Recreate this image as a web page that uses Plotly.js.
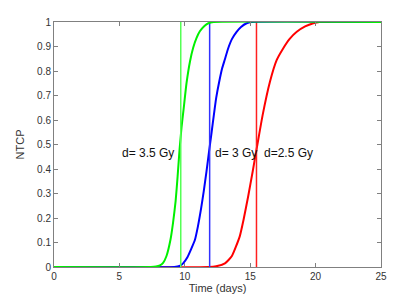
<!DOCTYPE html>
<html>
<head>
<meta charset="utf-8">
<script src="https://cdn.plot.ly/plotly-3.0.1.min.js"></script>
<style>html,body{margin:0;padding:0;background:#fff;}#chart{width:420px;height:300px;}</style>
</head>
<body>
<div id="chart"></div>
<script>
// NTCP curves (time in days, NTCP)
const greenT = [0, 7.4, 7.8, 8.1, 8.34, 8.6, 8.9, 9.1, 9.3, 9.45, 9.6, 9.75, 9.9, 10.13, 10.4, 10.64, 10.9, 11.15, 11.5, 11.8, 12.2, 25];
const greenV = [0, 0, 0.002, 0.007, 0.017, 0.045, 0.11, 0.18, 0.27, 0.37, 0.48, 0.57, 0.64, 0.75, 0.84, 0.895, 0.935, 0.962, 0.984, 0.995, 1, 1];

const blueT = [0, 9.2, 9.6, 9.87, 10.2, 10.5, 10.77, 11.0, 11.25, 11.45, 11.66, 11.85, 12.05, 12.22, 12.4, 12.63, 12.85, 13.06, 13.32, 13.6, 13.96, 14.3, 14.73, 15.1, 25];
const blueV = [0, 0, 0.004, 0.015, 0.04, 0.075, 0.11, 0.165, 0.24, 0.31, 0.39, 0.47, 0.55, 0.62, 0.69, 0.756, 0.81, 0.847, 0.893, 0.93, 0.96, 0.98, 0.995, 1, 1];

const redT = [0, 11.8, 12.4, 13.07, 13.6, 14.2, 14.5, 14.85, 15.19, 15.55, 15.95, 16.51, 17.03, 17.53, 18.0, 18.56, 19.2, 19.83, 20.3, 25];
const redV = [0, 0, 0.003, 0.015, 0.045, 0.125, 0.195, 0.29, 0.39, 0.5, 0.62, 0.756, 0.845, 0.893, 0.93, 0.96, 0.982, 0.995, 1, 1];

// vertical marker positions (days)
const markerX = {red: 15.48, blue: 11.9, green: 9.69};

// annotation labels
const labelText = ["d= 3.5 Gy", "d= 3 Gy", "d=2.5 Gy"];
const labelX = [7.17, 13.95, 17.93];
const labelY = [0.465, 0.465, 0.465];

const xTicks = [0, 5, 10, 15, 20, 25];
const yTicks = [0, 0.1, 0.2, 0.3, 0.4, 0.5, 0.6, 0.7, 0.8, 0.9, 1];

function curve(x, y, color) {
  return {x: x, y: y, type: 'scatter', mode: 'lines', line: {color: color, width: 2, shape: 'spline', smoothing: 0.5}, hoverinfo: 'skip'};
}
function vline(xv, color) {
  return {x: [xv, xv], y: [0, 1], type: 'scatter', mode: 'lines', line: {color: color, width: 1.5}, hoverinfo: 'skip'};
}

const data = [
  curve(redT, redV, '#ff0000'),
  vline(markerX.red, '#ff2020'),
  curve(blueT, blueV, '#0000ff'),
  vline(markerX.blue, '#3030ff'),
  curve(greenT, greenV, '#00f000'),
  vline(markerX.green, '#55ff55')
];

const axisCommon = {
  showgrid: false, zeroline: false, showline: true, linecolor: '#808080', linewidth: 1,
  mirror: 'ticks', ticks: 'inside', ticklen: 4, tickcolor: '#808080',
  tickfont: {family: 'Liberation Sans, Arial, sans-serif', size: 10, color: '#333'}
};

const layout = {
  width: 420, height: 300,
  margin: {l: 54, r: 39, t: 22, b: 33},
  paper_bgcolor: '#fff', plot_bgcolor: '#fff',
  showlegend: false,
  xaxis: Object.assign({}, axisCommon, {
    range: [0, 25], tickvals: xTicks, ticktext: xTicks.map(String),
    title: {text: 'Time (days)', font: {family: 'Liberation Sans, Arial, sans-serif', size: 11, color: '#333'}, standoff: 2}
  }),
  yaxis: Object.assign({}, axisCommon, {
    range: [0, 1], tickvals: yTicks, ticktext: yTicks.map(String),
    title: {text: 'NTCP', font: {family: 'Liberation Sans, Arial, sans-serif', size: 11, color: '#333'}, standoff: 10}
  }),
  annotations: labelText.map((t, i) => ({
    x: labelX[i], y: labelY[i], xref: 'x', yref: 'y', text: t, showarrow: false,
    font: {family: 'Liberation Sans, Arial, sans-serif', size: 12, color: '#111'}
  }))
};

Plotly.newPlot('chart', data, layout, {displayModeBar: false, staticPlot: true});
</script>
</body>
</html>
